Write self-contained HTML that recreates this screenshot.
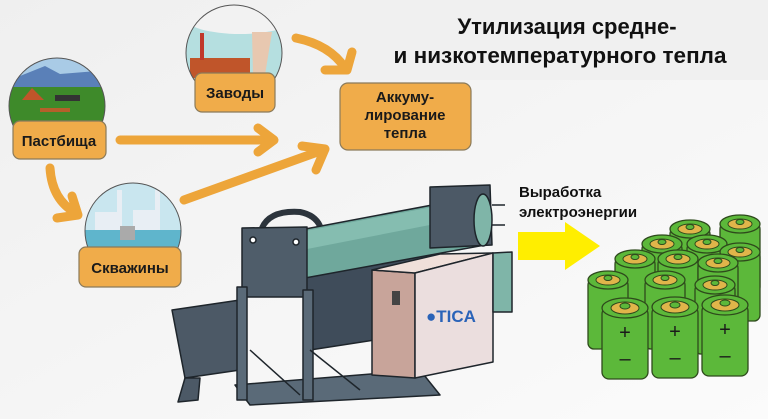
<!DOCTYPE html>
<html><head><meta charset="utf-8"><style>
html,body{margin:0;padding:0;background:#f7f7f7;}
svg{display:block;font-family:"Liberation Sans","Noto Sans CJK SC",sans-serif;}
.lbl{fill:#f0ac4a;stroke:#8a7a5a;stroke-width:1.2;}
.t{font-weight:bold;fill:#1a1a1a;font-size:15px;text-anchor:middle;}
.arr{fill:none;stroke:#eda53a;stroke-width:9;stroke-linecap:round;stroke-linejoin:round;}
</style></head><body>
<svg width="768" height="419" viewBox="0 0 768 419">
<defs>
<linearGradient id="bg" x1="0" y1="0" x2="1" y2="1"><stop offset="0" stop-color="#efefef"/><stop offset="1" stop-color="#fbfbfb"/></linearGradient>
<clipPath id="g1"><circle cx="57" cy="106" r="48"/></clipPath>
<clipPath id="g2"><circle cx="234" cy="53" r="48"/></clipPath>
<clipPath id="g3"><circle cx="133" cy="231" r="48"/></clipPath>
<g id="bat"><rect x="-20" y="0" width="40" height="70" rx="6" fill="#5cb83a" stroke="#2e4a1c" stroke-width="1.3"/><ellipse cx="0" cy="1" rx="20" ry="9" fill="#5cb83a" stroke="#2e4a1c" stroke-width="1.3"/><ellipse cx="0" cy="1" rx="12" ry="5" fill="#e0b54a" stroke="#2e4a1c"/><ellipse cx="0" cy="-1" rx="4" ry="2.5" fill="#5cb83a" stroke="#2e4a1c"/></g>
<g id="batf"><rect x="-23" y="0" width="46" height="72" rx="7" fill="#5cb83a" stroke="#2e4a1c" stroke-width="1.3"/><ellipse cx="0" cy="1" rx="23" ry="10" fill="#5cb83a" stroke="#2e4a1c" stroke-width="1.3"/><ellipse cx="0" cy="1" rx="14" ry="6" fill="#e0b54a" stroke="#2e4a1c"/><ellipse cx="0" cy="-1" rx="5" ry="3" fill="#5cb83a" stroke="#2e4a1c"/><text x="0" y="32" font-size="20" text-anchor="middle" fill="#1a1a1a">+</text><text x="0" y="58" font-size="20" text-anchor="middle" fill="#1a1a1a">–</text></g>
</defs>
<rect width="768" height="419" fill="url(#bg)"/>
<rect x="330" y="0" width="438" height="80" fill="#f0f0f0"/>
<text x="567" y="34" font-size="22" font-weight="bold" text-anchor="middle" fill="#111">Утилизация средне-</text>
<text x="560" y="63" font-size="22.5" font-weight="bold" text-anchor="middle" fill="#111">и низкотемпературного тепла</text>

<g clip-path="url(#g1)">
<rect x="0" y="50" width="120" height="120" fill="#a9cbe6"/>
<path d="M5 82 L30 72 L45 66 L60 74 L110 70 L110 90 L5 90Z" fill="#5a80b8"/>
<rect x="0" y="87" width="120" height="60" fill="#3e8a2a"/>
<path d="M22 100 L32 88 L44 100Z" fill="#c0552a"/>
<rect x="55" y="95" width="25" height="6" fill="#333"/>
<rect x="40" y="108" width="30" height="4" fill="#b5602a"/>
</g>
<circle cx="57" cy="106" r="48" fill="none" stroke="#555" stroke-width="1"/>
<g clip-path="url(#g2)">
<rect x="180" y="0" width="110" height="110" fill="#b5dfe0"/>
<ellipse cx="240" cy="18" rx="55" ry="16" fill="#f2f2f2"/>
<rect x="190" y="58" width="60" height="20" fill="#c0552a"/>
<rect x="200" y="33" width="4" height="27" fill="#c0392b"/>
<path d="M252 32 L272 32 L265 75 L253 75Z" fill="#e8c8b0"/>
</g>
<circle cx="234" cy="53" r="48" fill="none" stroke="#555" stroke-width="1"/>
<g clip-path="url(#g3)">
<rect x="80" y="180" width="110" height="100" fill="#c9e6ef"/>
<rect x="80" y="230" width="110" height="45" fill="#5fb5cc"/>
<rect x="95" y="212" width="25" height="18" fill="#e8eef4"/>
<rect x="133" y="210" width="25" height="20" fill="#e8eef4"/>
<rect x="117" y="190" width="5" height="40" fill="#e8eef4"/>
<rect x="155" y="190" width="5" height="40" fill="#e8eef4"/>
<rect x="120" y="226" width="15" height="14" fill="#aaa"/>
</g>
<circle cx="133" cy="231" r="48" fill="none" stroke="#555" stroke-width="1"/>

<path class="arr" d="M296 38 Q330 45 345 68"/><path class="arr" d="M325 70 L347 70 L352 52"/>
<path class="arr" d="M120 140 L272 140"/><path class="arr" d="M258 128 L274 140 L258 152"/>
<path class="arr" d="M184 200 L323 150"/><path class="arr" d="M302 146 L325 149 L316 170"/>
<path class="arr" d="M50 168 Q52 200 76 213"/><path class="arr" d="M57 218 L78 215 L72 196"/>

<rect class="lbl" x="13" y="121" width="93" height="38" rx="7"/>
<text class="t" x="59" y="146" font-size="16">Пастбища</text>
<rect class="lbl" x="195" y="73" width="80" height="39" rx="7"/>
<text class="t" x="235" y="98" font-size="16">Заводы</text>
<rect class="lbl" x="79" y="247" width="102" height="40" rx="7"/>
<text class="t" x="130" y="273" font-size="16">Скважины</text>
<rect class="lbl" x="340" y="83" width="131" height="67" rx="8"/>
<text class="t" x="405" y="102">Аккуму-</text>
<text class="t" x="405" y="120">лирование</text>
<text class="t" x="405" y="138">тепла</text>

<!-- machine -->
<g stroke="#1e252b" stroke-width="1.5" stroke-linejoin="round">
<path d="M235 385 L420 370 L440 395 L250 405Z" fill="#5a6a78"/>
<path d="M172 310 L240 300 L240 370 L185 378Z" fill="#4c5966"/>
<path d="M185 378 L200 378 L198 400 L178 402Z" fill="#4c5966"/>
<path d="M262 228 Q270 210 300 212 Q315 215 320 226" fill="none" stroke-width="6" stroke="#2c343c"/>
<path d="M300 270 L430 245 L440 330 L310 350Z" fill="#3f4c5a"/>
<path d="M300 230 L480 196 L485 245 L305 278Z" fill="#6fa89c"/>
<path d="M300 232 L480 198 L481 215 L302 250Z" fill="#85bdb0" stroke="none"/>
<path d="M430 187 L490 185 L492 245 L430 248Z" fill="#4c5966"/>
<ellipse cx="483" cy="220" rx="9" ry="26" fill="#7fb5a8"/>
<line x1="492" y1="205" x2="505" y2="205"/><line x1="492" y1="225" x2="505" y2="225"/>
<path d="M242 228 L307 227 L307 297 L242 297Z" fill="#4f5d6a"/>
<circle cx="253" cy="240" r="3" fill="#fff"/><circle cx="296" cy="242" r="3" fill="#fff"/>
<rect x="237" y="287" width="10" height="113" fill="#5a6a78"/>
<rect x="303" y="290" width="10" height="110" fill="#5a6a78"/>
<line x1="250" y1="350" x2="300" y2="395"/><line x1="310" y1="350" x2="360" y2="390"/>
<path d="M372 270 L415 273 L415 378 L372 375Z" fill="#c8a49a"/>
<path d="M372 270 L440 254 L493 253 L415 273Z" fill="#f0e0da"/>
<path d="M415 273 L493 253 L493 362 L415 378Z" fill="#ebdede"/>
<rect x="392" y="291" width="8" height="14" fill="#444" stroke="none"/>
<path d="M493 253 L512 252 L512 312 L493 312Z" fill="#7fb5a8"/>
</g>
<text x="426" y="322" font-size="17" font-weight="bold" fill="#2a63b8">●TICA</text>

<path d="M518 232 L565 232 L565 222 L600 246 L565 270 L565 260 L518 260Z" fill="#ffee00"/>
<text x="519" y="197" font-size="15" font-weight="bold" fill="#111">Выработка</text>
<text x="519" y="217" font-size="15" font-weight="bold" fill="#111">электроэнергии</text>

<use href="#bat" x="690" y="228"/>
<use href="#bat" x="740" y="223"/>
<use href="#bat" x="662" y="243"/>
<use href="#bat" x="707" y="243"/>
<use href="#bat" x="740" y="251"/>
<use href="#bat" x="635" y="258"/>
<use href="#bat" x="678" y="258"/>
<use href="#bat" x="718" y="262"/>
<use href="#bat" x="608" y="279"/>
<use href="#bat" x="665" y="279"/>
<use href="#bat" x="715" y="284"/>
<use href="#batf" x="625" y="307"/>
<use href="#batf" x="675" y="306"/>
<use href="#batf" x="725" y="304"/>
</svg>
</body></html>
